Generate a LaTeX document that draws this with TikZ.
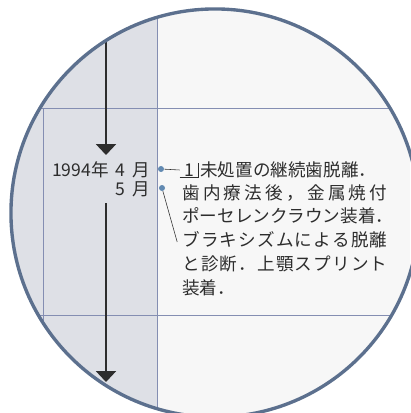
\documentclass[tikz,border=0pt]{standalone}
\usepackage{fontspec}
\setmainfont{Noto Sans CJK JP}
\usetikzlibrary{arrows.meta}

\definecolor{rimblue}{RGB}{92,112,142}
\definecolor{ruleblue}{RGB}{132,142,178}
\definecolor{dotblue}{RGB}{98,138,178}
\definecolor{columngray}{RGB}{222,224,230}
\definecolor{pagewhite}{RGB}{247,247,247}
\definecolor{inkgray}{RGB}{45,45,45}

% spread glue between characters of a justified line
\newcommand{\gp}{\hskip 0pt plus 1fil\relax}
\newcommand{\dgap}{\hspace{0.17cm}}

\begin{document}
\begin{tikzpicture}[x=0.025cm, y=-0.025cm,
  font=\fontsize{12.5}{15}\selectfont,
  rule/.style={draw=ruleblue, line width=0.4pt},
  timeline/.style={draw=inkgray, line width=0.8pt, -{Triangle[width=0.5cm, length=0.27cm]}},
  dot/.style={circle, fill=dotblue, inner sep=0pt, minimum size=0.15cm},
  leader/.style={draw=inkgray, line width=0.4pt},
  era/.style={anchor=east, inner sep=0pt, text=inkgray},
  note/.style={anchor=west, inner sep=0pt, text=inkgray}]

  \useasboundingbox (0,0) rectangle (410,413);

  % lens
  \begin{scope}
    \clip (215,213) circle [radius=5.1cm];
    \fill[pagewhite] (0,0) rectangle (410,413);
    \fill[columngray] (0,0) rectangle (157,413);
    \draw[rule] (0,108) -- (410,108);
    \draw[rule] (0,315) -- (410,315);
    \draw[rule] (43,108) -- (43,413);
    \draw[rule] (157,0) -- (157,413);
    \coordinate (top) at (106,0);
    \coordinate (apr) at (106,155);
    \coordinate (gap) at (106,203);
    \coordinate (bottom) at (106,382);
    \draw[timeline] (top) -- (apr);
    \draw[timeline] (gap) -- (bottom);
  \end{scope}
  \draw[rimblue, line width=2.4pt] (215,213) circle [radius=5.1cm];

  % dates
  \node[era] (apr94) at (150,170) {1994年\dgap 4\dgap 月};
  \node[era] (may94) at (150,189) {5\dgap 月};
  \node[dot] (d4) at (161,169) {};
  \node[dot] (d5) at (162,188) {};

  % notes
  \node[inner sep=0pt, minimum width=0.45cm, minimum height=0.33cm, text=inkgray] (tooth) at (189,170) {1};
  \draw[leader] (tooth.south west) -- (tooth.south east) -- (tooth.north east);
  \node[note] (l1) at (200,170) {\makebox[4.4cm][s]{未\gp 処\gp 置\gp の\gp 継\gp 続\gp 歯\gp 脱\gp 離\gp ．}};
  \node[note] (l2) at (182,193) {\makebox[5.125cm][s]{歯\gp 内\gp 療\gp 法\gp 後\gp ，\gp 金\gp 属\gp 焼\gp 付}};
  \node[note] (l3) at (182,216) {\makebox[5.05cm][s]{ポ\gp ー\gp セ\gp レ\gp ン\gp ク\gp ラ\gp ウ\gp ン\gp 装\gp 着\gp ．}};
  \node[note] (l4) at (182,240) {\makebox[5.125cm][s]{ブ\gp ラ\gp キ\gp シ\gp ズ\gp ム\gp に\gp よ\gp る\gp 脱\gp 離}};
  \node[note] (l5) at (182,264) {\makebox[5.125cm][s]{と\gp 診\gp 断\gp ．\gp 上\gp 顎\gp ス\gp プ\gp リ\gp ン\gp ト}};
  \node[note] (l6) at (182,288) {装着．};

  \draw[leader] (d4) -- (tooth.west);
  \draw[leader] (d5) -- ([xshift=-0.12cm, yshift=-0.05cm]l4.west);

\end{tikzpicture}
\end{document}
